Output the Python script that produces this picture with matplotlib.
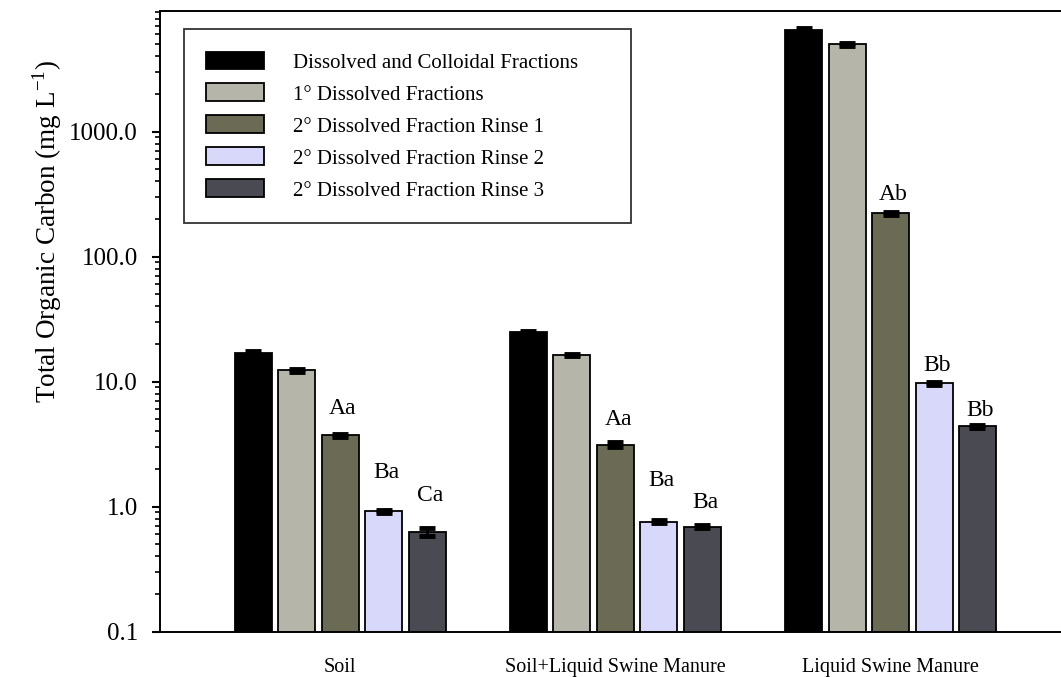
import matplotlib
matplotlib.use("Agg")
import matplotlib.pyplot as plt
import numpy as np
from matplotlib.ticker import FormatStrFormatter, LogLocator

plt.rcParams['font.family'] = ['Liberation Serif', 'DejaVu Serif']

# data (log scale)
groups = ["Soil", "Soil+Liquid Swine Manure", "Liquid Swine Manure"]
series = ["Dissolved and Colloidal Fractions",
          "1\u00b0 Dissolved Fractions",
          "2\u00b0 Dissolved Fraction Rinse 1",
          "2\u00b0 Dissolved Fraction Rinse 2",
          "2\u00b0 Dissolved Fraction Rinse 3"]
colors = ["#000000", "#b5b5a9", "#6b6b55", "#d8d8fa", "#4a4a52"]

dc_frac = [17.1, 24.8, 6550]
diss1 = [12.3, 16.4, 5000]
rinse1 = [3.72, 3.13, 222]
rinse2 = [0.92, 0.76, 9.73]
rinse3 = [0.63, 0.69, 4.40]

dc_err = [0.5, 0.6, 250]
diss1_err = [0.35, 0.4, 150]
rinse1_err = [0.12, 0.15, 8]
rinse2_err = [0.03, 0.02, 0.25]
rinse3_err = [0.05, 0.02, 0.1]

# significance letters for rinse 1..3
rinse1_lab = ["Aa", "Aa", "Ab"]
rinse2_lab = ["Ba", "Ba", "Bb"]
rinse3_lab = ["Ca", "Ba", "Bb"]

values = [dc_frac, diss1, rinse1, rinse2, rinse3]
errors = [dc_err, diss1_err, rinse1_err, rinse2_err, rinse3_err]
letters = [None, None, rinse1_lab, rinse2_lab, rinse3_lab]
# vertical offsets (pt) of the letters above the bar tops
lab_off = [None, None, [19.5, 18.5, 14], [28, 29.5, 12.5], [26, 17.5, 11.5]]

fig = plt.figure(figsize=(10.61, 6.77), dpi=100)
ax = fig.add_axes([0.1508, 0.0669, 1.0091 - 0.1508, 0.9842 - 0.0669])

x = np.arange(len(groups))
pitch = 0.158
width = 0.1345
for i in range(len(series)):
    xi = x + (i - 2) * pitch
    ax.bar(xi, values[i], width, color=colors[i], edgecolor="black",
           linewidth=1.3, label=series[i], zorder=2)
    ax.errorbar(xi, values[i], yerr=errors[i], fmt="none", ecolor="black",
                elinewidth=2, capsize=6, capthick=3.5, zorder=3)
    if letters[i] is not None:
        for k in range(len(groups)):
            ax.annotate(letters[i][k], (xi[k], values[i][k]),
                        xytext=(2, lab_off[i][k]), textcoords="offset points",
                        ha="center", va="center", fontsize=17)

ax.set_yscale("log")
ax.set_ylim(0.1, 9300)
ax.set_xlim(-0.6545, 2.6545)
ax.yaxis.set_major_locator(LogLocator(base=10, numticks=10))
ax.yaxis.set_minor_locator(LogLocator(base=10, subs=np.arange(2, 10), numticks=20))
ax.yaxis.set_major_formatter(FormatStrFormatter("%.1f"))
ax.set_yticks([0.1, 1, 10, 100, 1000])
ax.tick_params(axis="y", which="major", length=6, width=1.5, labelsize=18, pad=10)
ax.tick_params(axis="y", which="minor", length=3.6, width=1.2)
ax.set_xticks(x)
ax.set_xticklabels(groups, fontsize=14.5)
ax.tick_params(axis="x", length=0, pad=19)
for s in ax.spines.values():
    s.set_linewidth(1.4)

ax.set_ylabel("Total Organic Carbon (mg L$^{\\mathregular{-1}}$)", fontsize=19.5)
ax.yaxis.set_label_coords(-0.105, 0.644)

leg = ax.legend(loc="upper left", bbox_to_anchor=(0.0262, 0.9705 - 0.31, 0.4915, 0.31),
                mode="expand", fontsize=15,
                frameon=True, fancybox=False, edgecolor="black",
                handlelength=2.79, handleheight=0.95, handletextpad=1.35,
                labelspacing=0.52, borderpad=1.08, borderaxespad=0)
leg.get_frame().set_linewidth(1.3)

plt.savefig("out.png", dpi=100)
